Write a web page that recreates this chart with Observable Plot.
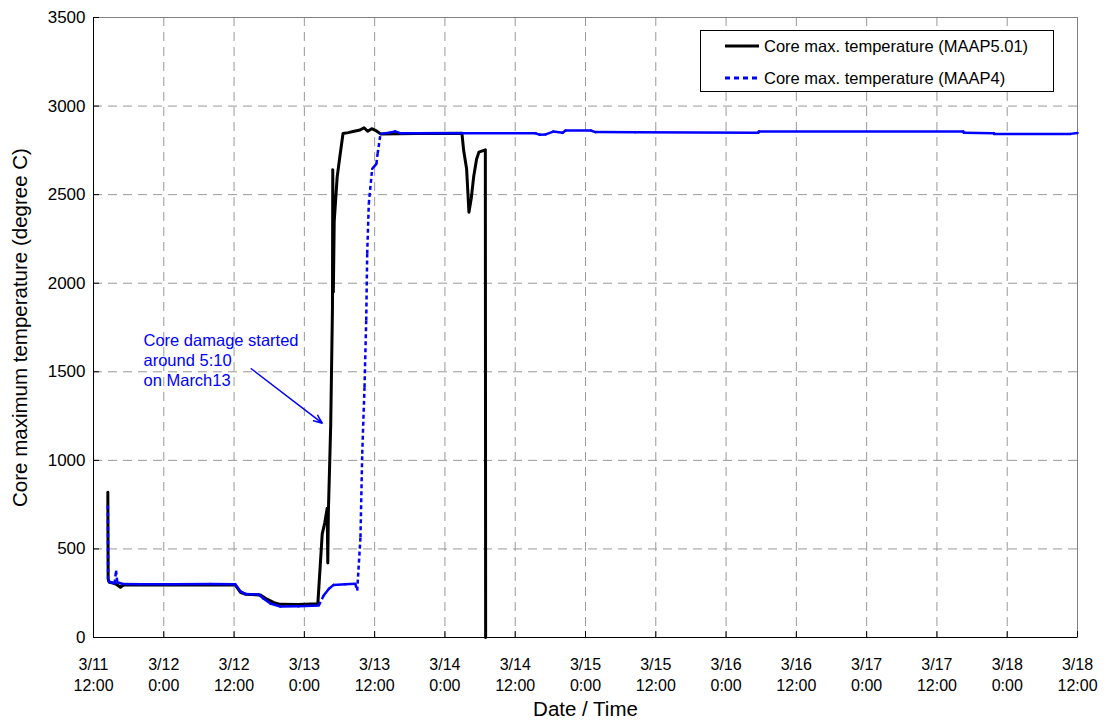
<!DOCTYPE html>
<html><head><meta charset="utf-8">
<script src="https://cdn.jsdelivr.net/npm/d3@7"></script>
<script src="https://cdn.jsdelivr.net/npm/@observablehq/plot@0.6"></script>
<style>
body{margin:0;background:#fff;font-family:"Liberation Sans",Arial,sans-serif;}
#wrap{position:relative;width:1105px;height:721px;}
#legend{position:absolute;left:700px;top:30px;width:352px;height:60px;border:1px solid #000;background:#fff;font-size:16.5px;color:#000;}
#legend .row{position:absolute;left:0;height:20px;display:flex;align-items:center;}
#legend svg{margin-left:24px;margin-right:5px;}
</style>
</head><body>
<div id="wrap"><div id="chart"></div><div id="legend"></div></div>
<script>
// ---- data (hours since 3/11 12:00, temperature in degree C) ----
const blackHours = [2.45,2.5,2.7,3.3,4.0,4.6,5.2,6.5,12,18,24.2,25.1,26.0,28.5,29.7,30.8,31.9,35,38.3,39.05,39.5,39.9,40.0,40.1,40.5,40.8,40.85,40.95,41.1,41.6,42.0,42.6,43.5,44.5,45.5,46.2,46.8,47.5,48.2,49.0,55,62.9,63.2,63.7,64.1,64.5,64.9,65.4,65.8,66.9,66.95];
const blackTemp  = [820,330,312,308,298,284,298,297,296,297,297,255,244,240,215,197,187,186,190,585,650,730,420,710,1200,1865,2640,1950,2350,2599,2700,2845,2850,2858,2865,2878,2858,2872,2862,2843,2845,2847,2749,2646,2401,2480,2599,2700,2740,2753,0];
const blueHours = [2.45,2.5,2.9,3.6,3.85,4.05,5.0,8,14,20,24.2,25.1,26.0,28.2,29.0,30.2,31.9,35,38.47,39.3,40.2,41.0,43,44.7,45.02,45.58,45.88,46.27,46.56,46.73,47.0,47.58,48.3,48.5,49.0,50.5,51.5,52.5,62.9,75.5,76.2,77.2,78.5,80.1,80.6,84.9,85.7,92.5,113.5,113.6,148.5,148.6,153.7,153.8,166.8,168];
const blueTemp  = [745,320,312,305,378,312,302,300,300,302,300,260,245,243,220,192,175,176,181,237,275,297,300,303,265,566,1037,1413,1790,2166,2448,2646,2674,2730,2843,2850,2857,2846,2847,2846,2838,2840,2856,2849,2862,2862,2853,2852,2850,2856,2856,2849,2847,2843,2843,2848];

const xTickHours = [0,12,24,36,48,60,72,84,96,108,120,132,144,156,168];
const xTickDates = ["3/11","3/12","3/12","3/13","3/13","3/14","3/14","3/15","3/15","3/16","3/16","3/17","3/17","3/18","3/18"];
const xTickTimes = ["12:00","0:00","12:00","0:00","12:00","0:00","12:00","0:00","12:00","0:00","12:00","0:00","12:00","0:00","12:00"];
const yTicks = [0,500,1000,1500,2000,2500,3000,3500];

const seriesNames = ["Core max. temperature (MAAP5.01)", "Core max. temperature (MAAP4)"];
const xTitle = "Date / Time";
const yTitle = "Core maximum temperature (degree C)";
const noteText = "Core damage started\naround 5:10\non March13";
const noteAt = [8.54, 1723];
const arrowFrom = [26.93, 1517];
const arrowTo = [39.05, 1210];

// ---- build ----
const black = blackHours.map((h, i) => ({h, t: blackTemp[i]}));
const blue = blueHours.map((h, i) => ({h, t: blueTemp[i]}));
const blueSegs = d3.pairs(blue).map(([a, b]) => ({
  h1: a.h, t1: a.t, h2: b.h, t2: b.t,
  steep: Math.abs(b.t - a.t) > 30 && Math.abs((b.t - a.t) / (b.h - a.h)) > 66
}));

const font = '"Liberation Sans", Arial, sans-serif';
const chart = Plot.plot({
  width: 1105, height: 721,
  marginLeft: 93, marginRight: 28, marginTop: 17, marginBottom: 84,
  style: {fontFamily: font, background: "#fff", color: "#000"},
  x: {domain: [0, 168]},
  y: {domain: [0, 3500]},
  marks: [
    Plot.gridX(xTickHours.slice(1, -1), {stroke: "#999", strokeOpacity: 1, strokeDasharray: "9,6"}),
    Plot.gridY(yTicks.slice(1, -1), {stroke: "#999", strokeOpacity: 1, strokeDasharray: "9,6"}),
    Plot.frame({stroke: "#808080"}),
    Plot.ruleX([0], {stroke: "#000"}),
    Plot.ruleY([0], {stroke: "#000"}),
    Plot.tickX(xTickHours, {x: d => d, insetTop: 614, stroke: "#000"}),
    Plot.tickY(yTicks, {y: d => d, insetRight: 978, stroke: "#000"}),
    Plot.axisX(xTickHours, {tickSize: 0, tickPadding: 18, fontSize: 16, lineHeight: 1.28,
      tickFormat: d => { const i = xTickHours.indexOf(d); return xTickDates[i] + "\n" + xTickTimes[i]; }, label: null}),
    Plot.axisY(yTicks, {tickSize: 0, tickPadding: 8, fontSize: 17, tickFormat: d => String(d), label: null}),
    Plot.text([yTitle], {frameAnchor: "left", dx: -73, rotate: -90, fontSize: 20.5, textAnchor: "middle", lineAnchor: "middle", text: d => d}),
    Plot.text([xTitle], {frameAnchor: "bottom", dy: 72, fontSize: 20.5, textAnchor: "middle", lineAnchor: "middle", text: d => d}),
    Plot.line(black, {x: "h", y: "t", stroke: "#000", strokeWidth: 3, strokeLinejoin: "round"}),
    Plot.link(blueSegs.filter(d => !d.steep), {x1: "h1", y1: "t1", x2: "h2", y2: "t2", stroke: "#0000ff", strokeWidth: 2.5, strokeLinecap: "round"}),
    Plot.link(blueSegs.filter(d => d.steep), {x1: "h1", y1: "t1", x2: "h2", y2: "t2", stroke: "#0000ff", strokeWidth: 2.5, strokeDasharray: "4,3"}),
    Plot.text([noteText], {x: () => noteAt[0], y: () => noteAt[1], text: d => d, textAnchor: "start", lineAnchor: "top", fontSize: 16.5, lineHeight: 1.21, fill: "#0000ff"}),
    Plot.arrow([0], {x1: () => arrowFrom[0], y1: () => arrowFrom[1], x2: () => arrowTo[0], y2: () => arrowTo[1], stroke: "#0000ff", strokeWidth: 1.5, headLength: 9, headAngle: 45})
  ]
});
document.getElementById("chart").appendChild(chart);

// legend
const legend = document.getElementById("legend");
const sw = [
  `<svg width="34" height="6"><line x1="0" y1="3" x2="34" y2="3" stroke="#000" stroke-width="3"/></svg>`,
  `<svg width="34" height="6"><line x1="0" y1="3" x2="34" y2="3" stroke="#0000ff" stroke-width="3" stroke-dasharray="5,4"/></svg>`
];
seriesNames.forEach((name, i) => {
  const row = document.createElement("div");
  row.className = "row";
  row.style.top = (i === 0 ? 5 : 37) + "px";
  row.innerHTML = sw[i] + `<span>${name}</span>`;
  legend.appendChild(row);
});
</script>
</body></html>
